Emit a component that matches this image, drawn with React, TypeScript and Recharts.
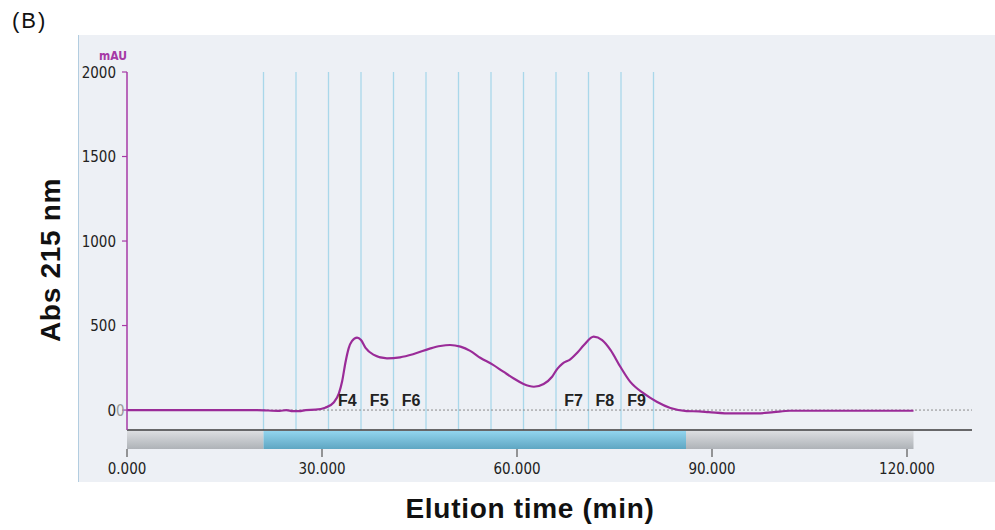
import React from 'react';
import { ComposedChart, Line, XAxis, YAxis, ReferenceLine, ReferenceArea, ReferenceDot } from 'recharts';

const times = [0, 20, 23.5, 24.5, 25.5, 26.5, 27.5, 29, 30.5, 31.8, 32.6, 33.1, 33.6, 34.1, 34.6, 35.4, 36.0, 36.7, 37.9, 40.0, 42.0, 44.0, 46.7, 48.2, 49.7, 51.3, 52.8, 54.4, 56.2, 57.9, 59.5, 61.0, 62.6, 64.1, 65.4, 66.2, 67.0, 68.2, 69.3, 70.3, 71.8, 73.1, 74.4, 75.9, 77.4, 79.5, 81.5, 83.6, 86.1, 88, 89.5, 93, 97, 99.5, 102, 121];
const absorbance = [0, 0, -5, 0, -6, -6, 0, 2, 14, 45, 99, 170, 280, 365, 408, 428, 414, 368, 328, 306, 312, 330, 365, 379, 385, 375, 350, 308, 270, 227, 187, 154, 138, 154, 197, 244, 275, 300, 340, 385, 434, 414, 355, 256, 168, 98, 49, 12, -6, -8, -12, -20, -20, -12, -4, -4];

const fractionLines = [21, 26, 31, 36, 41, 46, 51, 56, 61, 66, 71, 76, 81];
const fractionLabels = ['F4', 'F5', 'F6', 'F7', 'F8', 'F9'];
const fractionLabelPos = [33.9, 38.8, 43.7, 68.7, 73.5, 78.4];

const xTicks = [0, 30, 60, 90, 120];
const yTicks = [0, 500, 1000, 1500, 2000];

const barStarts = [0, 21, 86];
const barEnds = [21, 86, 121];
const barKinds = ['gray', 'blue', 'gray'];

const data = times.map((t, i) => ({ t, v: absorbance[i] }));

const NARROW = '"Liberation Sans Narrow", "DejaVu Sans Condensed", "Liberation Sans", sans-serif';
const BOLD = '"Liberation Sans", Arial, sans-serif';
const MAGENTA = '#a63aa6';
const CURVE = '#9a2b98';

const XTick = (props: any) => {
  const { x, y, payload } = props;
  return (
    <g>
      <line x1={x} x2={x} y1={y + 19} y2={y + 27} stroke="#555" strokeWidth={1.2} />
      <text x={x} y={y + 44} textAnchor="middle" fontFamily={NARROW} fontSize={15} fill="#222">
        {Number(payload.value).toFixed(3)}
      </text>
    </g>
  );
};

const YTick = (props: any) => {
  const { x, y, payload } = props;
  const v = payload.value;
  return (
    <g>
      <text x={x} y={y + 5.5} textAnchor="end" fontFamily={NARROW} fontSize={15} fill="#222">
        {v}
      </text>
      {v === 0 ? (
        <text x={x} y={y + 5.5} textAnchor="start" fontFamily={NARROW} fontSize={15} fill="#9a9a9a">
          0
        </text>
      ) : null}
    </g>
  );
};

const YLabel = (props: any) => {
  const { viewBox } = props;
  return (
    <g>
      <text
        x={50}
        y={260}
        transform="rotate(-90 50 260)"
        textAnchor="middle"
        dominantBaseline="central"
        fontFamily={BOLD}
        fontWeight="bold"
        fontSize={28}
        letterSpacing={0.7}
        fill="#111"
      >
        Abs 215 nm
      </text>
      <text
        x={viewBox.x + viewBox.width}
        y={60}
        textAnchor="end"
        fontFamily={NARROW}
        fontWeight="bold"
        fontSize={12}
        fill={MAGENTA}
      >
        mAU
      </text>
    </g>
  );
};

const XLabel = () => (
  <text x={530} y={518} textAnchor="middle" fontFamily={BOLD} fontWeight="bold" fontSize={28} letterSpacing={0.7} fill="#111">
    Elution time (min)
  </text>
);

export default function App() {
  return (
    <div style={{ position: 'absolute', left: 0, top: 0, width: 995, height: 530, background: '#fff', overflow: 'hidden' }}>
      <div
        style={{
          position: 'absolute',
          left: 78,
          top: 35,
          width: 917,
          height: 447,
          background: '#edf0f5',
          borderLeft: '1.5px solid #b3cde0',
          boxSizing: 'border-box',
        }}
      />
      <div
        style={{
          position: 'absolute',
          left: 12,
          top: 8,
          fontFamily: BOLD,
          fontSize: 22,
          letterSpacing: 2,
          color: '#111',
        }}
      >
        (B)
      </div>
      <div style={{ position: 'absolute', left: 0, top: 0 }}>
        <ComposedChart width={995} height={530} data={data} margin={{ top: 72, right: 23, bottom: 0, left: 0 }}>
          <defs>
            <linearGradient id="gGray" x1="0" y1="0" x2="0" y2="1">
              <stop offset="0%" stopColor="#dcdee1" />
              <stop offset="100%" stopColor="#aeb2b7" />
            </linearGradient>
            <linearGradient id="gBlue" x1="0" y1="0" x2="0" y2="1">
              <stop offset="0%" stopColor="#92d4ee" />
              <stop offset="100%" stopColor="#5ea6c2" />
            </linearGradient>
          </defs>
          <XAxis
            type="number"
            dataKey="t"
            domain={[0, 130]}
            ticks={xTicks}
            allowDataOverflow
            axisLine={{ stroke: '#3a3a3a', strokeWidth: 1.5 }}
            tickLine={false}
            tickSize={0}
            tickMargin={0}
            height={100}
            tick={<XTick />}
            label={<XLabel />}
          />
          <YAxis
            type="number"
            domain={[-118, 2000]}
            ticks={yTicks}
            allowDataOverflow
            width={127}
            axisLine={{ stroke: MAGENTA, strokeWidth: 1.5 }}
            tickLine={{ stroke: MAGENTA, strokeWidth: 1.2 }}
            tickSize={5}
            tickMargin={6}
            tick={<YTick />}
            label={<YLabel />}
          />
          {barStarts.map((s, i) => (
            <ReferenceArea
              key={'bar' + i}
              x1={s}
              x2={barEnds[i]}
              y1={-124}
              y2={-231}
              ifOverflow="visible"
              fill={barKinds[i] === 'blue' ? 'url(#gBlue)' : 'url(#gGray)'}
              fillOpacity={1}
              stroke="none"
            />
          ))}
          {fractionLines.map((f) => (
            <ReferenceLine key={'fl' + f} x={f} stroke="#a9d7ea" strokeWidth={1.3} />
          ))}
          <ReferenceLine y={0} stroke="#8a8a8a" strokeDasharray="2 2" strokeWidth={1} />
          {fractionLabels.map((lab, i) => (
            <ReferenceDot
              key={lab}
              x={fractionLabelPos[i]}
              y={0}
              r={1}
              fill="none"
              stroke="none"
              label={{ value: lab, position: 'top', offset: 3, fontFamily: BOLD, fontWeight: 'bold', fontSize: 16, fill: '#222' }}
            />
          ))}
          <Line
            type="monotone"
            dataKey="v"
            stroke={CURVE}
            strokeWidth={2.2}
            dot={false}
            isAnimationActive={false}
          />
        </ComposedChart>
      </div>
    </div>
  );
}
